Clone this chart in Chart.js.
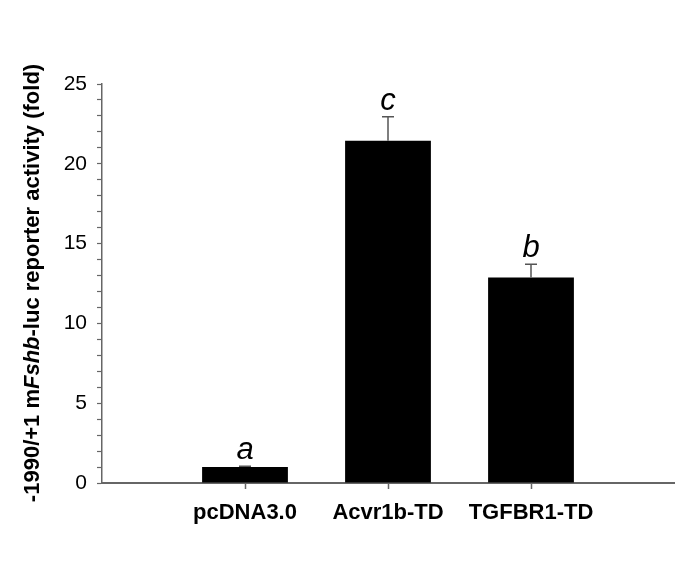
<!DOCTYPE html>
<html>
<head>
<meta charset="utf-8">
<script src="https://cdn.jsdelivr.net/npm/chart.js@4/dist/chart.umd.min.js"></script>
<style>
  html, body { margin: 0; padding: 0; background: #fff; }
  #wrap { width: 685px; height: 570px; }
</style>
</head>
<body>
<div id="wrap"><canvas id="fshbChart"></canvas></div>
<script>
// categories (empty slots at both ends keep the axis layout of the original)
const categories = ['', 'pcDNA3.0', 'Acvr1b-TD', 'TGFBR1-TD', ''];
const foldValues = [null, 1.0, 21.45, 12.88, null];
const foldErrors = [null, 0.05, 1.5, 0.83, null];
const sigLetters = ['', 'a', 'c', 'b', ''];

const axisGray = '#666666';

// error bars + significance letters
const errorBarPlugin = {
    id: 'errorBars',
    afterDatasetsDraw(chart) {
        const ctx = chart.ctx;
        const x = chart.scales.x;
        const y = chart.scales.y;
        ctx.save();
        foldValues.forEach((v, i) => {
            if (v === null) return;
            const px = x.getPixelForValue(i);
            const top = y.getPixelForValue(v + foldErrors[i]);
            const base = y.getPixelForValue(v);
            ctx.strokeStyle = '#555555';
            ctx.lineWidth = 1.5;
            ctx.beginPath();
            ctx.moveTo(px, base);
            ctx.lineTo(px, top);
            ctx.moveTo(px - 6, top);
            ctx.lineTo(px + 6, top);
            ctx.stroke();

            ctx.fillStyle = '#000';
            ctx.font = 'italic 31px Arial';
            ctx.textAlign = 'center';
            ctx.textBaseline = 'alphabetic';
            ctx.fillText(sigLetters[i], px, top - 7);
        });
        ctx.restore();
    }
};

// y axis title with italic gene name
const yTitlePlugin = {
    id: 'yTitle',
    afterDraw(chart) {
        const ctx = chart.ctx;
        const parts = [
            { text: '-1990/+1 m', font: 'bold 22px Arial' },
            { text: 'Fshb', font: 'italic bold 22px Arial' },
            { text: '-luc reporter activity (fold)', font: 'bold 22px Arial' }
        ];
        let total = 0;
        parts.forEach(p => { ctx.font = p.font; p.w = ctx.measureText(p.text).width; total += p.w; });
        ctx.save();
        ctx.translate(33, 283);
        ctx.rotate(-Math.PI / 2);
        ctx.fillStyle = '#000';
        ctx.textBaseline = 'middle';
        ctx.textAlign = 'left';
        let cx = -total / 2;
        parts.forEach(p => {
            ctx.font = p.font;
            ctx.fillText(p.text, cx, 0);
            cx += p.w;
        });
        ctx.restore();
    }
};

const ctx = document.getElementById('fshbChart').getContext('2d');
new Chart(ctx, {
    type: 'bar',
    data: {
        labels: categories,
        datasets: [{
            data: foldValues,
            backgroundColor: '#000000',
            borderColor: '#000000',
            borderWidth: 0,
            barPercentage: 0.6,
            categoryPercentage: 1.0
        }]
    },
    options: {
        responsive: true,
        maintainAspectRatio: false,
        animation: false,
        layout: { padding: { top: 84, right: 11, left: 0, bottom: 0 } },
        plugins: {
            legend: { display: false },
            tooltip: { enabled: false }
        },
        scales: {
            x: {
                offset: false,
                grid: {
                    offset: false,
                    drawOnChartArea: false,
                    tickLength: 6,
                    tickWidth: 1.5,
                    tickColor: c => (c.index === 0 || c.index === categories.length - 1) ? 'rgba(0,0,0,0)' : axisGray
                },
                border: { color: axisGray, width: 2 },
                ticks: {
                    color: '#000',
                    padding: 11,
                    maxRotation: 0,
                    autoSkip: false,
                    font: { family: 'Arial', size: 22, weight: 'bold' }
                },
                afterFit: s => { s.height = 87; s.paddingLeft = 0; s.paddingRight = 0; }
            },
            y: {
                min: 0,
                max: 25,
                grid: {
                    drawOnChartArea: false,
                    tickLength: 5,
                    tickWidth: 1.2,
                    tickColor: axisGray
                },
                border: { color: axisGray, width: 1.5 },
                ticks: {
                    stepSize: 1,
                    autoSkip: false,
                    color: '#000',
                    padding: 10,
                    font: { family: 'Arial', size: 21 },
                    callback: v => (v % 5 === 0 ? v : '')
                },
                afterFit: s => { s.width = 102; s.paddingTop = 0; s.paddingBottom = 0; }
            }
        }
    },
    plugins: [errorBarPlugin, yTitlePlugin]
});
</script>
</body>
</html>
